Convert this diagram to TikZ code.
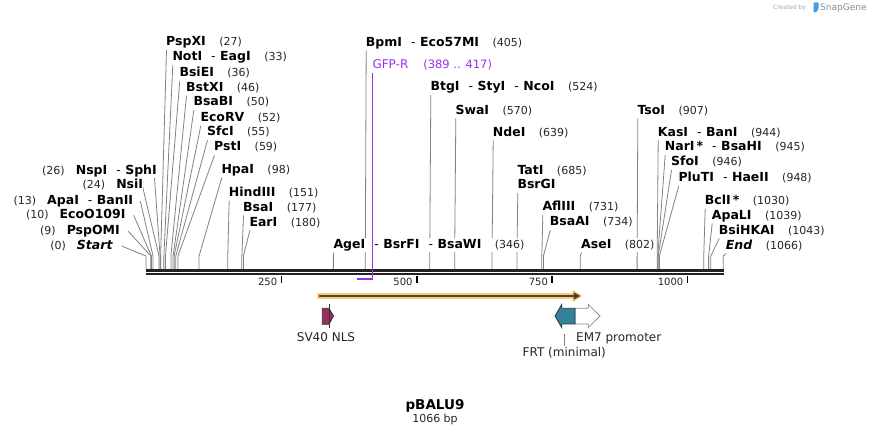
\documentclass[tikz,border=0pt]{standalone}
\usepackage{fontspec}
\setmainfont{DejaVu Sans}
\usetikzlibrary{arrows.meta,backgrounds}

\definecolor{sitegray}{RGB}{130,130,130}
\definecolor{backbonecol}{RGB}{34,34,34}
\definecolor{primerpurple}{RGB}{155,48,240}
\definecolor{orfglow}{RGB}{249,203,125}
\definecolor{orfline}{RGB}{80,66,46}
\definecolor{nlsred}{RGB}{152,46,96}
\definecolor{frtteal}{RGB}{49,131,156}
\definecolor{logogray}{RGB}{165,165,165}
\definecolor{logoblue}{RGB}{64,158,230}

\newcommand\bpx[1]{146+0.5415*#1}
\newcommand\enzname{\fontsize{12.5}{14}\selectfont\bfseries}
\newcommand\enznum{\fontsize{11}{13}\selectfont\mdseries\color{black!85}}
\newcommand\enzsep{\hspace{9pt}{\mdseries-}\hspace{4.5pt}}
\newcommand\cutR[2]{{\enzname #1}\hspace{13.5pt}{\enznum(#2)}\hspace{6pt}}
\newcommand\cutL[2]{{\enznum(#1)}\hspace{11pt}{\enzname #2}}

\begin{document}
\begin{tikzpicture}[
        x=1pt, y=-1pt,
        enz/.style={fill=white, inner xsep=0pt, inner ysep=1.5pt, text height=9pt, text depth=2.5pt, font=\fontsize{11}{13}\selectfont},
        renz/.style={enz, anchor=base west},
        lenz/.style={enz, anchor=base east},
        cutline/.style={draw=sitegray, line width=0.8pt},
        featlab/.style={inner sep=1pt, font=\fontsize{12}{14}\selectfont, text=black!85},
        ticklabel/.style={inner sep=0pt, anchor=base east, font=\fontsize{10}{12}\selectfont, text=black!85},
        featline/.style={draw=black!80, line width=0.8pt, line join=miter},
    ]
    \useasboundingbox (0,0) rectangle (871,435);

    % cut site labels
    \node[lenz] (nspi) at (157,174.3) {\cutL{26}{NspI\enzsep SphI}};
    \node[lenz] (nsii) at (143.3,188.6) {\cutL{24}{NsiI}};
    \node[lenz] (apai) at (133.3,204.3) {\cutL{13}{ApaI\enzsep BanII}};
    \node[lenz] (eco109) at (125.7,218.6) {\cutL{10}{EcoO109I}};
    \node[lenz] (pspomi) at (120,234.3) {\cutL{9}{PspOMI}};
    \node[lenz] (startsite) at (112.7,249.3) {\cutL{0}{\itshape Start}};

    \node[renz] (pspxi) at (166,46) {\cutR{PspXI}{27}};
    \node[renz] (noti) at (172.3,61) {\cutR{NotI\enzsep EagI}{33}};
    \node[renz] (bsiei) at (179.3,76.5) {\cutR{BsiEI}{36}};
    \node[renz] (bstxi) at (186,91.5) {\cutR{BstXI}{46}};
    \node[renz] (bsabi) at (193.3,106) {\cutR{BsaBI}{50}};
    \node[renz] (ecorv) at (200.3,121.5) {\cutR{EcoRV}{52}};
    \node[renz] (sfci) at (207,136) {\cutR{SfcI}{55}};
    \node[renz] (psti) at (214,151) {\cutR{PstI}{59}};
    \node[renz] (hpai) at (221.3,173.5) {\cutR{HpaI}{98}};
    \node[renz] (hindiii) at (228.7,196.5) {\cutR{HindIII}{151}};
    \node[renz] (bsai) at (243,211.3) {\cutR{BsaI}{177}};
    \node[renz] (eari) at (249.3,226.3) {\cutR{EarI}{180}};
    \node[renz] (bpmi) at (365.7,46.3) {\cutR{BpmI\enzsep Eco57MI}{405}};
    \node[renz] (btgi) at (430.3,91) {\cutR{BtgI\enzsep StyI\enzsep NcoI}{524}};
    \node[renz] (swai) at (455.3,114.3) {\cutR{SwaI}{570}};
    \node[renz] (ndei) at (492.7,136.3) {\cutR{NdeI}{639}};
    \node[renz] (tati) at (517.3,174.3) {\cutR{TatI}{685}};
    \node[renz] (bsrgi) at (517.3,188.6) {{\enzname BsrGI}\hspace{6pt}};
    \node[renz] (afliii) at (542.3,211) {\cutR{AflIII}{731}};
    \node[renz] (bsaai) at (549.7,226) {\cutR{BsaAI}{734}};
    \node[renz] (agei) at (333.3,248.3) {\cutR{AgeI\enzsep BsrFI\enzsep BsaWI}{346}};
    \node[renz] (asei) at (581,248.3) {\cutR{AseI}{802}};
    \node[renz] (tsoi) at (637.3,114.3) {\cutR{TsoI}{907}};
    \node[renz] (kasi) at (657.7,136.3) {\cutR{KasI\enzsep BanI}{944}};
    \node[renz] (nari) at (664.7,151) {\cutR{NarI\,*\enzsep BsaHI}{945}};
    \node[renz] (sfoi) at (671,166) {\cutR{SfoI}{946}};
    \node[renz] (pluti) at (678.3,181.6) {\cutR{PluTI\enzsep HaeII}{948}};
    \node[renz] (bcli) at (704.7,204.3) {\cutR{BclI\,*}{1030}};
    \node[renz] (apali) at (711.7,219.3) {\cutR{ApaLI}{1039}};
    \node[renz] (bsihkai) at (718.7,234.3) {\cutR{BsiHKAI}{1043}};
    \node[renz] (endsite) at (725.7,249.3) {\cutR{\itshape End}{1066}};

    \begin{scope}[on background layer]
        \fill[white] (0,0) rectangle (871,435);
        \foreach \lbl/\bp/\dx in {nspi/26/-3, nsii/24/-1, apai/13/7, eco109/10/8, pspomi/9/8, startsite/0/9}
            \draw[cutline] ([xshift=\dx pt]\lbl.east) -- ({\bpx{\bp}},256) -- ({\bpx{\bp}},269.3);
        \foreach \lbl/\bp in {pspxi/27, noti/33, bsiei/36, bstxi/46, bsabi/50, ecorv/52, sfci/55, psti/59,
                hpai/98, hindiii/151, bsai/177, eari/180, bpmi/405, btgi/524, swai/570, ndei/639, bsrgi/685,
                afliii/731, bsaai/734, agei/346, asei/802, tsoi/907, kasi/944, nari/945, sfoi/946, pluti/948,
                bcli/1030, apali/1039, bsihkai/1043, endsite/1066}
            \draw[cutline] ([xshift=0.5pt]\lbl.south west) -- ({\bpx{\bp}},256) -- ({\bpx{\bp}},269.3);
    \end{scope}

    % backbone and ruler
    \draw[backbonecol, line width=2.7pt] (146,270.6) -- (724.3,270.6);
    \draw[backbonecol, line width=2.3pt] (146,274.3) -- (724.3,274.3);
    \foreach \t in {250,500,750,1000} {
        \draw[black, line width=1.6pt] ({\bpx{\t}},276) -- ({\bpx{\t}},283);
        \node[ticklabel] (tick\t) at ({\bpx{\t}-4},285.3) {\t};
    }

    % primer
    \node[renz, text=primerpurple] (gfpr) at (372.3,68.6)
        {{\fontsize{12}{14}\selectfont GFP-R}\hspace{15pt}{\fontsize{11.5}{13}\selectfont(389 .. 417)}\hspace{6pt}};
    \coordinate (gfpbot) at (372.3,279);
    \coordinate (gfpend) at (356.8,279);
    \draw[primerpurple, line width=1.1pt] (gfpr.south west) -- (gfpbot);
    \draw[primerpurple, line width=2pt] (gfpend) -- ([xshift=0.6pt]gfpbot);

    % orf
    \coordinate (orfs) at (317.3,296);
    \coordinate (orfe) at (580.5,296);
    \draw[orfglow, line width=5.4pt, -{Triangle[length=10pt,width=12pt]}] (orfs) -- ([xshift=2pt]orfe);
    \draw[orfline, line width=1.8pt, -{Triangle[length=7pt,width=7pt]}] ([xshift=1.5pt]orfs) -- (orfe);

    % features
    \filldraw[fill=nlsred, featline] (322.3,308.3) -- (329,308.3) -- (333.5,316) -- (329,324.3) -- (322.3,324.3) -- cycle;
    \draw[featline] (329,304.3) -- (329,327.7);
    \filldraw[fill=white, draw=black!45, line width=0.8pt, line join=miter]
        (575,308.3) -- (588.3,308.3) -- (588.3,304.5) -- (600,316) -- (588.3,327.5) -- (588.3,324) -- (575,324) -- cycle;
    \filldraw[fill=frtteal, featline]
        (575,308.3) -- (561.7,308.3) -- (561.7,304.5) -- (555,316) -- (561.7,327.5) -- (561.7,324) -- (575,324) -- cycle;

    \node[featlab, anchor=base] (nlslab) at (326,342) {SV40 NLS};
    \node[featlab, anchor=base west] (em7lab) at (575,342) {EM7 promoter};
    \node[featlab, anchor=base] (frtlab) at (564.3,356.7) {FRT (minimal)};
    \coordinate (frttop) at (564.3,334.3);
    \draw[sitegray, line width=0.8pt] (frttop) -- (frtlab.north);

    % title
    \node[anchor=base, inner sep=0pt, font=\fontsize{13.5}{15}\selectfont\bfseries] (title) at (435,410) {pBALU9};
    \node[anchor=base, inner sep=0pt, font=\fontsize{11}{13}\selectfont, text=black!85] (bplen) at (435,423) {1066 bp};

    % logo
    \node[anchor=base west, inner sep=0pt, font=\fontsize{6}{7}\selectfont, text=logogray] (created) at (773,10) {Created by};
    \fill[logoblue, rounded corners=0.8pt] (813.5,2.5) -- (818.5,2.5) -- (818.5,9) -- (816,12.5) -- (813.5,12.5) -- cycle;
    \node[anchor=base west, inner sep=0pt, font=\fontsize{9}{10}\selectfont, text=logogray!85!black] (snapgene) at (820,11) {SnapGene};
\end{tikzpicture}
\end{document}
